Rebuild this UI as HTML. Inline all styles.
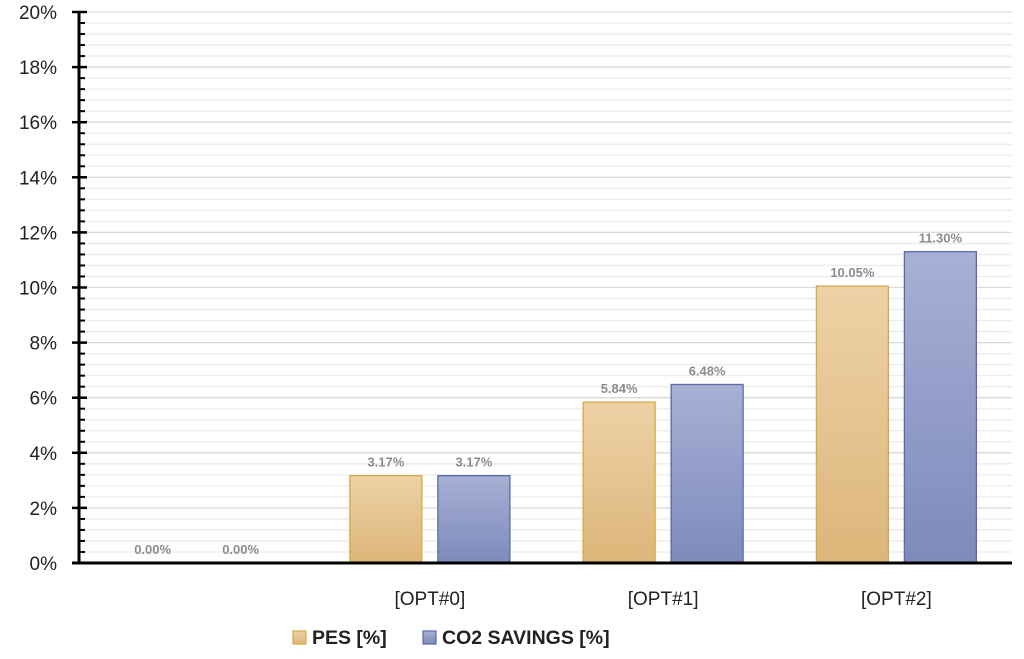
<!DOCTYPE html>
<html><head><meta charset="utf-8"><style>
html,body{margin:0;padding:0;background:#fff;}
svg{display:block;font-family:"Liberation Sans",sans-serif;}
</style></head><body>
<svg id="chart" width="1024" height="659">
<defs>
<linearGradient id="gPes" x1="0" y1="0" x2="0" y2="1"><stop offset="0" stop-color="#eed1a5"/><stop offset="1" stop-color="#dcb67a"/></linearGradient>
<linearGradient id="gCo2" x1="0" y1="0" x2="0" y2="1"><stop offset="0" stop-color="#a7b1d5"/><stop offset="1" stop-color="#7d8abb"/></linearGradient>
</defs>
<g id="grid"></g>
<g id="bars"></g>
<g id="axes"></g>
<g>
<rect x="293" y="631" width="13" height="13" fill="url(#gPes)" stroke="#d4aa45" stroke-width="1.2"/>
<text x="312" y="644" font-size="19.5" font-weight="bold" fill="#222">PES [%]</text>
<rect x="423" y="631" width="13" height="13" fill="url(#gCo2)" stroke="#5a6aa8" stroke-width="1.2"/>
<text x="442" y="644" font-size="19.5" font-weight="bold" fill="#222">CO2 SAVINGS [%]</text>
</g>
</svg>
<script>
const categories = ["", "[OPT#0]", "[OPT#1]", "[OPT#2]"];
const pesValues = [0.00, 3.17, 5.84, 10.05];
const co2Values = [0.00, 3.17, 6.48, 11.30];
const yTicks = [0, 2, 4, 6, 8, 10, 12, 14, 16, 18, 20];

const NS = "http://www.w3.org/2000/svg";
const x0 = 79, x1 = 1012, yTop = 12, yBot = 563, yMax = 20;
const catW = (x1 - x0) / categories.length;
const barW = 72, gap = 16;
function y(v){ return yBot - v / yMax * (yBot - yTop); }
function cx(i){ return x0 + catW * (i + 0.5) + 1; }
function mk(tag, attrs, parent){ const e = document.createElementNS(NS, tag); for (const k in attrs) e.setAttribute(k, attrs[k]); parent.appendChild(e); return e; }
const grid = document.getElementById('grid'), bars = document.getElementById('bars'), axes = document.getElementById('axes');

for (let v = 0.4; v <= yMax + 0.01; v += 0.4) {
  const isMajor = Math.abs(v / 2 - Math.round(v / 2)) < 0.01;
  const g = mk('line', {x1: x0, x2: x1, y1: y(v), y2: y(v), stroke: isMajor ? '#d9d9d9' : '#ececec', 'stroke-width': 1.3}, grid);
  
  
  const t = mk('line', {x1: x0, x2: x0 + 6, y1: y(v), y2: y(v), stroke: '#000', 'stroke-width': 2}, axes);
  
  
}
yTicks.forEach(v => {
  const t = mk('line', {x1: x0 - 7, x2: x0 + 8, y1: y(v), y2: y(v), stroke: '#000', 'stroke-width': 2.5}, axes);
  
  
  const l = mk('text', {x: 57, y: y(v) + 7, 'font-size': 19, fill: '#222', 'text-anchor': 'end'}, axes);
  l.textContent = v + '%';
  
  
});
const ya = mk('line', {x1: x0, x2: x0, y1: yTop, y2: yBot, stroke: '#000', 'stroke-width': 3}, axes);


const xa = mk('line', {x1: x0 - 7, x2: x1, y1: yBot, y2: yBot, stroke: '#000', 'stroke-width': 3}, axes);



categories.forEach((c, i) => {
  const c0 = cx(i);
  [[pesValues[i], c0 - gap/2 - barW, 'url(#gPes)', '#d4aa45', 'bar-pes'], [co2Values[i], c0 + gap/2, 'url(#gCo2)', '#5a6aa8', 'bar-co2']].forEach(([v, bx, fill, stroke, name]) => {
    if (v > 0) {
      const r = mk('rect', {x: bx, y: y(v), width: barW, height: yBot - y(v), fill: fill, stroke: stroke, 'stroke-width': 1.3}, bars);
      
      
    }
    const t = mk('text', {x: bx + barW/2, y: y(v) - 9, 'font-size': 13, 'font-weight': 'bold', fill: '#8c8c8c', 'text-anchor': 'middle'}, bars);
    t.textContent = v.toFixed(2) + '%';
    
    
  });
  const xl = mk('text', {x: c0, y: 605, 'font-size': 19, fill: '#222', 'text-anchor': 'middle'}, axes);
  xl.textContent = c;
  
  
});
</script>
</body></html>
